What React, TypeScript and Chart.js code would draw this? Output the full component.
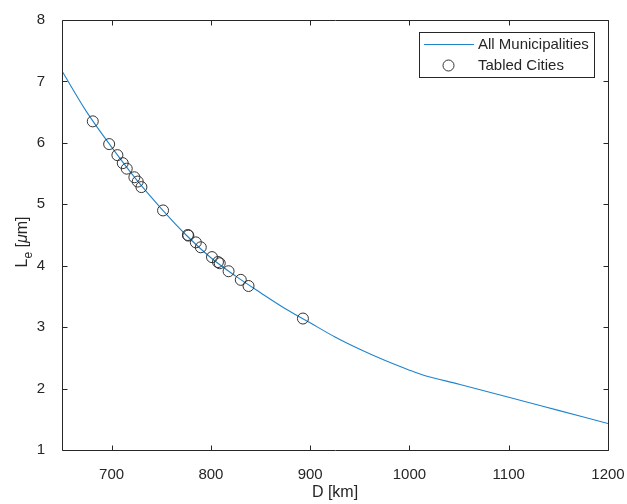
import React, { useEffect, useRef } from "react";
import { Chart, registerables } from "chart.js";

Chart.register(...registerables);

// Curve: all municipalities (D in km, Le in µm)
const curveD = [650, 675, 700, 725, 750, 775, 800, 825, 850, 875, 900, 925, 950, 975, 1000, 1012, 1050, 1100, 1150, 1200];
const curveLe = [7.17, 6.5, 5.93, 5.4, 4.93, 4.5, 4.13, 3.83, 3.56, 3.3, 3.07, 2.84, 2.64, 2.46, 2.3, 2.23, 2.07, 1.86, 1.645, 1.43];

// Tabled cities
const cityD = [681, 697.5, 705.8, 711.2, 715.2, 722.9, 726.3, 730, 751.8, 776.8, 777.3, 784.8, 789.8, 801.1, 807.1, 808.9, 817.8, 830.1, 837.9, 892.7];
const cityLe = [6.35, 5.98, 5.8, 5.67, 5.58, 5.44, 5.37, 5.28, 4.9, 4.5, 4.49, 4.38, 4.3, 4.14, 4.06, 4.04, 3.91, 3.77, 3.67, 3.14];

const xTicks = [700, 800, 900, 1000, 1100, 1200];
const yTicks = [1, 2, 3, 4, 5, 6, 7, 8];

const seriesNames = ["All Municipalities", "Tabled Cities"];
const xLabel = "D [km]";

const FONT = "'Liberation Sans', Arial, Helvetica, sans-serif";
const TXT = "#262626";
const LINE = "#1f84cc";
const MARK = "#333333";

const framePlugin = {
  id: "matlabFrame",
  afterDraw(chart: any) {
    const { ctx, chartArea } = chart;
    const { left, right, top, bottom } = chartArea;
    const xs = chart.scales.x;
    const ys = chart.scales.y;
    ctx.save();
    ctx.strokeStyle = TXT;
    ctx.lineWidth = 1;
    const L = Math.round(left) + 0.5;
    const R = Math.round(right) + 0.5;
    const T = Math.round(top) + 0.5;
    const B = Math.round(bottom) + 0.5;
    ctx.beginPath();
    ctx.rect(L, T, R - L, B - T);
    const tl = 5;
    xTicks.forEach((v) => {
      const px = Math.round(xs.getPixelForValue(v)) + 0.5;
      ctx.moveTo(px, B);
      ctx.lineTo(px, B - tl);
      ctx.moveTo(px, T);
      ctx.lineTo(px, T + tl);
    });
    yTicks.forEach((v) => {
      const py = Math.round(ys.getPixelForValue(v)) + 0.5;
      ctx.moveTo(L, py);
      ctx.lineTo(L + tl, py);
      ctx.moveTo(R, py);
      ctx.lineTo(R - tl, py);
    });
    ctx.stroke();

    // X title
    ctx.fillStyle = TXT;
    ctx.font = `16px ${FONT}`;
    ctx.textAlign = "center";
    ctx.textBaseline = "alphabetic";
    ctx.fillText(xLabel, (left + right) / 2, 497);

    // Y title with subscript: L_e [\mu m]
    const parts = [
      { t: "L", f: `16px ${FONT}`, dy: 0 },
      { t: "e", f: `12px ${FONT}`, dy: 5 },
      { t: " [", f: `16px ${FONT}`, dy: 0 },
      { t: "μ", f: `italic 16px ${FONT}`, dy: 0 },
      { t: "m]", f: `16px ${FONT}`, dy: 0 },
    ];
    let total = 0;
    const widths = parts.map((p) => {
      ctx.font = p.f;
      const w = ctx.measureText(p.t).width;
      total += w;
      return w;
    });
    ctx.save();
    ctx.translate(27, 242);
    ctx.rotate(-Math.PI / 2);
    ctx.textAlign = "left";
    let x = -total / 2;
    parts.forEach((p, i) => {
      ctx.font = p.f;
      ctx.fillText(p.t, x, p.dy);
      x += widths[i];
    });
    ctx.restore();

    // Legend
    const bx = 419.5, by = 32.5, bw = 175, bh = 45;
    ctx.fillStyle = "#ffffff";
    ctx.fillRect(bx, by, bw, bh);
    ctx.strokeStyle = TXT;
    ctx.lineWidth = 1;
    ctx.strokeRect(bx, by, bw, bh);
    ctx.strokeStyle = LINE;
    ctx.lineWidth = 1.1;
    ctx.beginPath();
    ctx.moveTo(424, 44.5);
    ctx.lineTo(474, 44.5);
    ctx.stroke();
    ctx.strokeStyle = MARK;
    ctx.lineWidth = 1;
    ctx.beginPath();
    ctx.arc(448.5, 65.5, 5.5, 0, Math.PI * 2);
    ctx.stroke();
    ctx.fillStyle = TXT;
    ctx.font = `15px ${FONT}`;
    ctx.textAlign = "left";
    ctx.textBaseline = "middle";
    ctx.fillText(seriesNames[0], 478, 45);
    ctx.fillText(seriesNames[1], 478, 66);
    ctx.restore();
  },
};

export default function App() {
  const ref = useRef<HTMLCanvasElement>(null);
  useEffect(() => {
    document.body.style.margin = "0";
    const canvas = ref.current!;
    const chart = new Chart(canvas, {
      type: "scatter",
      data: {
        datasets: [
          {
            label: seriesNames[0],
            data: curveD.map((d, i) => ({ x: d, y: curveLe[i] })),
            showLine: true,
            borderColor: LINE,
            borderWidth: 1.1,
            pointRadius: 0,
            cubicInterpolationMode: "monotone",
            order: 2,
          },
          {
            label: seriesNames[1],
            data: cityD.map((d, i) => ({ x: d, y: cityLe[i] })),
            showLine: false,
            borderColor: MARK,
            backgroundColor: "rgba(0,0,0,0)",
            borderWidth: 1,
            pointRadius: 5.5,
            pointStyle: "circle",
            order: 1,
          },
        ],
      },
      options: {
        responsive: false,
        animation: false,
        events: [],
        layout: { padding: { top: 20, right: 19, left: 0, bottom: 0 } },
        plugins: {
          legend: { display: false },
          tooltip: { enabled: false },
        },
        scales: {
          x: {
            type: "linear",
            min: 650,
            max: 1200,
            grid: { display: false },
            border: { display: false },
            afterBuildTicks: (s: any) => {
              s.ticks = xTicks.map((v) => ({ value: v }));
            },
            afterFit: (s: any) => {
              s.height = 54;
              s.paddingRight = 0;
              s.paddingLeft = 0;
            },
            ticks: {
              padding: 8,
              color: TXT,
              font: { family: FONT, size: 15 },
              maxRotation: 0,
              callback: (v: any) => String(v),
            },
          },
          y: {
            type: "linear",
            min: 1,
            max: 8,
            grid: { display: false },
            border: { display: false },
            afterBuildTicks: (s: any) => {
              s.ticks = yTicks.map((v) => ({ value: v }));
            },
            afterFit: (s: any) => {
              s.width = 62;
              s.paddingTop = 0;
              s.paddingBottom = 0;
            },
            ticks: {
              padding: 9,
              color: TXT,
              font: { family: FONT, size: 15 },
              callback: (v: any) => String(v),
            },
          },
        },
      },
      plugins: [framePlugin],
    } as any);
    return () => chart.destroy();
  }, []);
  return (
    <div style={{ position: "absolute", left: 0, top: 0, width: 627, height: 504, background: "#fff" }}>
      <canvas ref={ref} width={627} height={504} style={{ display: "block" }} />
    </div>
  );
}
